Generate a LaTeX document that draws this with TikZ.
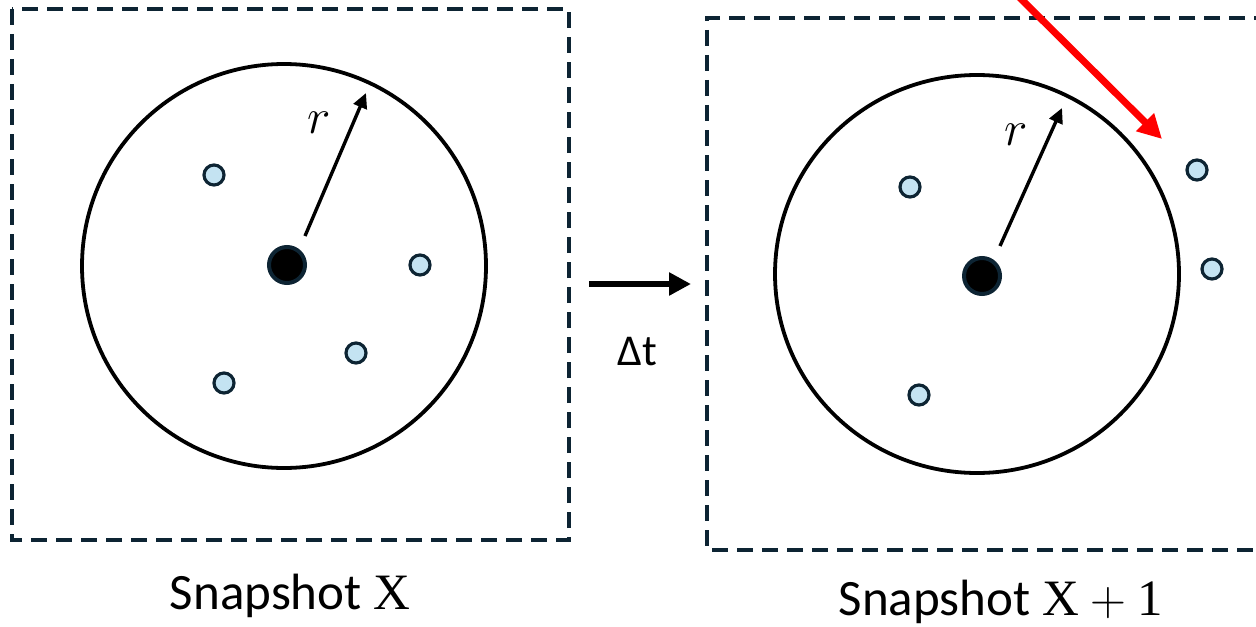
\documentclass[tikz,border=0pt]{standalone}
\usepackage{fontspec}
\setmainfont{Carlito}
\newfontfamily\serifx{Liberation Serif}
\usetikzlibrary{arrows.meta}
\definecolor{navy}{HTML}{0D2433}
\definecolor{dotblue}{HTML}{C4E3F2}
\tikzset{
  box/.style={draw=navy, line width=1.9pt, dash pattern=on 8pt off 4.5pt},
  ring/.style={draw=black, line width=1.9pt},
  center/.style={circle, fill=black, draw=navy, line width=2pt, minimum size=18pt, inner sep=0pt},
  particle/.style={circle, fill=dotblue, draw=navy, line width=1.6pt, minimum size=10pt, inner sep=0pt},
  radius/.style={draw=black, line width=1.7pt, -{Triangle[length=7.5pt,width=7pt]}},
  step arrow/.style={draw=black, line width=3pt, -{Triangle[length=11pt,width=11pt]}},
  red arrow/.style={draw=red, line width=3.5pt, -{Triangle[length=12pt,width=12pt]}},
  caption/.style={font=\fontsize{25.5}{30}\selectfont, anchor=base},
  rlabel/.style={font=\fontsize{32}{32}\selectfont},
}
\begin{document}
\begin{tikzpicture}[x=0.5pt,y=-0.5pt]
\useasboundingbox (0,0) rectangle (1256,626);
% left snapshot
\draw[box] (12,9) rectangle (569,540);
\draw[ring] (284,266) ellipse (202 and 202);
\node[center] (c1) at (287,265) {};
\coordinate (t1) at (366,93);
\coordinate (s1) at (305,236);
\draw[radius] (s1) -- (t1);
\node[rlabel] (r1) at (319,123) {$r$};
\node[particle] (p11) at (214,175) {};
\node[particle] (p12) at (420,265) {};
\node[particle] (p13) at (356,353) {};
\node[particle] (p14) at (224,383) {};
\node[caption] (cap1) at (290,609) {Snapshot {\serifx X}};
% middle
\coordinate (m1) at (589,284);
\coordinate (m2) at (691,284);
\draw[step arrow] (m1) -- (m2);
\node[font=\fontsize{22}{26}\selectfont] (dt) at (637,352) {Δt};
% right snapshot
\draw[box] (1270,18) -- (707,18) -- (707,550) -- (1270,550);
\draw[ring] (977,274) ellipse (202 and 199);
\node[center] (c2) at (982,276) {};
\coordinate (s2) at (1000,246);
\coordinate (t2) at (1062,108);
\draw[radius] (s2) -- (t2);
\node[rlabel] (r2) at (1016,135) {$r$};
\node[particle] (p21) at (910,187) {};
\node[particle] (p22) at (919,395) {};
\node[particle] (p23) at (1197,170) {};
\node[particle] (p24) at (1212,269) {};
\coordinate (ra) at (1018,-4);
\coordinate (rb) at (1162,139);
\draw[red arrow] (ra) -- (rb);
\node[caption] (cap2) at (1001,615) {Snapshot {\serifx X} $+$ {\serifx 1}};
\end{tikzpicture}
\end{document}
